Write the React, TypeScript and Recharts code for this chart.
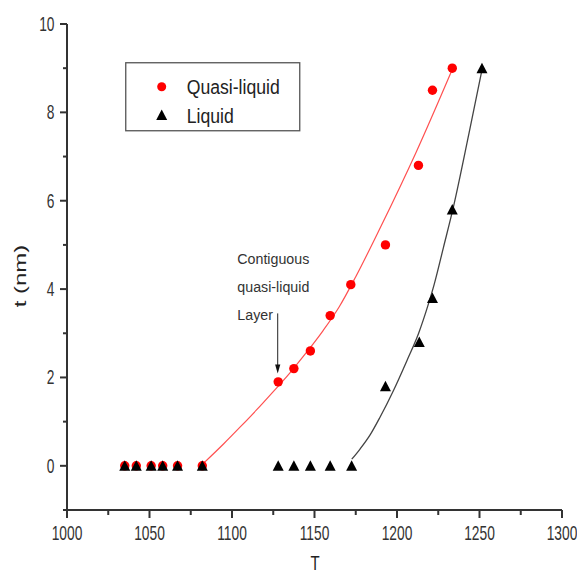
import React from 'react';
import {
  ComposedChart,
  XAxis,
  YAxis,
  Scatter,
  Line,
  Legend,
  ReferenceLine,
  Customized,
} from 'recharts';

// ---- data ----
const quasiT = [1035, 1042, 1051, 1058, 1067, 1082, 1128, 1137.5, 1147.5, 1159.5, 1172, 1193, 1213, 1221.5, 1233.5];
const quasiThick = [0, 0, 0, 0, 0, 0, 1.9, 2.2, 2.6, 3.4, 4.1, 5.0, 6.8, 8.5, 9.0];

const liquidT = [1035, 1042, 1051, 1058, 1067, 1082, 1128, 1137.5, 1147.5, 1159.5, 1172.5, 1193, 1213.5, 1221.5, 1233.5, 1251.5];
const liquidThick = [0, 0, 0, 0, 0, 0, 0, 0, 0, 0, 0, 1.8, 2.8, 3.8, 5.8, 9.0];

// fit curves
const quasiFitT = [1082.5, 1095, 1105, 1115, 1125, 1135, 1145, 1155, 1165, 1175, 1190, 1211.6, 1233.8];
const quasiFitThick = [0.05, 0.5, 0.88, 1.27, 1.68, 2.1, 2.56, 3.05, 3.6, 4.28, 5.4, 7.1, 9.0];

const liquidFitT = [1172.6, 1177.6, 1183.7, 1189.7, 1197.8, 1206, 1213, 1219.1, 1222.5, 1228.2, 1234.2, 1243.5, 1251.5];
const liquidFitThick = [0.15, 0.38, 0.7, 1.1, 1.7, 2.38, 2.99, 3.67, 4.1, 4.95, 5.86, 7.5, 8.96];

const xTicks = [1000, 1025, 1050, 1075, 1100, 1125, 1150, 1175, 1200, 1225, 1250, 1275, 1300];
const yTicks = [-1, 0, 1, 2, 3, 4, 5, 6, 7, 8, 9, 10];

const legendOrder = ['Quasi-liquid', 'Liquid'];
const annotationLines = ['Contiguous', 'quasi-liquid', 'Layer'];
const annotationFrom = { T: 1127.7, t: 3.45 };
const annotationTo = { T: 1127.7, t: 2.09 };

const rows = (xs: number[], ys: number[]) => xs.map((T, i) => ({ T, t: ys[i] }));
const quasiData = rows(quasiT, quasiThick);
const liquidData = rows(liquidT, liquidThick);
const quasiFit = rows(quasiFitT, quasiFitThick);
const liquidFit = rows(liquidFitT, liquidFitThick);

const FONT = '"Liberation Sans", Arial, sans-serif';
const AXIS = '#333';

const XTick = (props: any) => {
  const { x, y, payload } = props;
  const v = payload.value;
  const major = v % 50 === 0;
  return (
    <g>
      <line x1={x} y1={y} x2={x} y2={y + (major ? 8 : 5)} stroke={AXIS} strokeWidth={2} />
      {major && (
        <text
          transform={`translate(${x},${y + 30}) scale(0.69,1)`}
          textAnchor="middle"
          fontSize={20}
          fontFamily={FONT}
          fill="#333"
        >
          {v}
        </text>
      )}
    </g>
  );
};

const YTick = (props: any) => {
  const { x, y, payload } = props;
  const v = payload.value;
  const major = v >= 0 && v % 2 === 0;
  return (
    <g>
      <line x1={x - (major ? 7 : 4)} y1={y} x2={x} y2={y} stroke={AXIS} strokeWidth={2} />
      {major && (
        <text
          transform={`translate(${x - 12.5},${y + 7}) scale(0.69,1)`}
          textAnchor="end"
          fontSize={20}
          fontFamily={FONT}
          fill="#333"
        >
          {v}
        </text>
      )}
    </g>
  );
};

const CircleShape = (props: any) => {
  const { cx, cy } = props;
  return <circle cx={cx} cy={cy} r={4.7} fill="#ff0000" />;
};

const TriangleShape = (props: any) => {
  const { cx, cy } = props;
  const w = 11;
  const h = 10;
  return (
    <polygon
      points={`${cx},${cy - h / 2 - 0.5} ${cx + w / 2},${cy + h / 2} ${cx - w / 2},${cy + h / 2}`}
      fill="#000"
    />
  );
};

const ArrowShape = (props: any) => {
  const { x1, y1, x2, y2 } = props;
  const tx = x1 - 40.4;
  return (
    <g>
      <line x1={x1} y1={y1} x2={x2} y2={y2 - 8} stroke="#222" strokeWidth={1} />
      <polygon points={`${x2},${y2} ${x2 - 2.6},${y2 - 9} ${x2 + 2.6},${y2 - 9}`} fill="#111" />
      {annotationLines.map((s, i) => (
        <text
          key={s}
          transform={`translate(${tx},${y1 - 49 + i * 28}) scale(0.95,1)`}
          fontSize={15}
          fontFamily={FONT}
          fill="#333"
        >
          {s}
        </text>
      ))}
    </g>
  );
};

const LegendContent = (props: any) => {
  const items = (props.payload || [])
    .filter((p: any) => legendOrder.includes(p.value))
    .sort((a: any, b: any) => legendOrder.indexOf(a.value) - legendOrder.indexOf(b.value));
  return (
    <svg width={176} height={70} style={{ display: 'block' }}>
      <rect x={0.75} y={0.75} width={174} height={68} fill="#fff" stroke="#555" strokeWidth={1.3} />
      {items.map((it: any, i: number) => {
        const cy = 24.7 + i * 28.3;
        const cx = 36.7;
        return (
          <g key={it.value}>
            {it.type === 'circle' ? (
              <circle cx={cx} cy={cy} r={4.5} fill="#ff0000" />
            ) : (
              <polygon points={`${cx},${cy - 5.5} ${cx + 5.5},${cy + 5} ${cx - 5.5},${cy + 5}`} fill="#000" />
            )}
            <text
              transform={`translate(61.7,${cy + 7.5}) scale(0.84,1)`}
              fontSize={21}
              fontFamily={FONT}
              fill="#222"
            >
              {it.value}
            </text>
          </g>
        );
      })}
    </svg>
  );
};

const AxisTitles = () => (
  <g>
    <text
      transform="translate(315,570) scale(0.75,1)"
      textAnchor="middle"
      fontSize={20}
      fontFamily={FONT}
      fill="#222"
    >
      T
    </text>
    <text
      transform="translate(26,276) rotate(-90) scale(1,0.68)"
      textAnchor="middle"
      fontSize={24}
      fontFamily={FONT}
      fill="#222"
    >
      t (nm)
    </text>
  </g>
);

export default function App() {
  return (
    <div style={{ position: 'absolute', left: 0, top: 0, width: 577, height: 575, background: '#fff' }}>
      <ComposedChart width={577} height={575} margin={{ top: 24, right: 15, bottom: 25, left: 27 }}>
        <XAxis
          type="number"
          dataKey="T"
          domain={[1000, 1300]}
          ticks={xTicks}
          interval={0}
          height={40}
          tickSize={0}
          tickMargin={0}
          tickLine={false}
          tick={<XTick />}
          axisLine={{ stroke: AXIS, strokeWidth: 2 }}
          allowDataOverflow
        />
        <YAxis
          type="number"
          dataKey="t"
          domain={[-1, 10]}
          ticks={yTicks}
          interval={0}
          width={40}
          tickSize={0}
          tickMargin={0}
          tickLine={false}
          tick={<YTick />}
          axisLine={{ stroke: AXIS, strokeWidth: 2 }}
          allowDataOverflow
        />
        <Line
          data={quasiFit}
          dataKey="t"
          type="monotone"
          stroke="#ff5050"
          strokeWidth={1.2}
          dot={false}
          legendType="none"
          isAnimationActive={false}
        />
        <Line
          data={liquidFit}
          dataKey="t"
          type="monotone"
          stroke="#444"
          strokeWidth={1.3}
          dot={false}
          legendType="none"
          isAnimationActive={false}
        />
        <Scatter
          name="Quasi-liquid"
          data={quasiData}
          fill="#ff0000"
          legendType="circle"
          shape={<CircleShape />}
          isAnimationActive={false}
        />
        <Scatter
          name="Liquid"
          data={liquidData}
          fill="#000"
          legendType="triangle"
          shape={<TriangleShape />}
          isAnimationActive={false}
        />
        <ReferenceLine
          segment={[
            { x: annotationFrom.T, y: annotationFrom.t },
            { x: annotationTo.T, y: annotationTo.t },
          ]}
          shape={<ArrowShape />}
        />
        <Legend
          layout="vertical"
          align="center"
          verticalAlign="middle"
          content={<LegendContent />}
          wrapperStyle={{ position: 'absolute', left: 125, top: 62, width: 176, height: 70 }}
        />
        <Customized component={<AxisTitles />} />
      </ComposedChart>
    </div>
  );
}
